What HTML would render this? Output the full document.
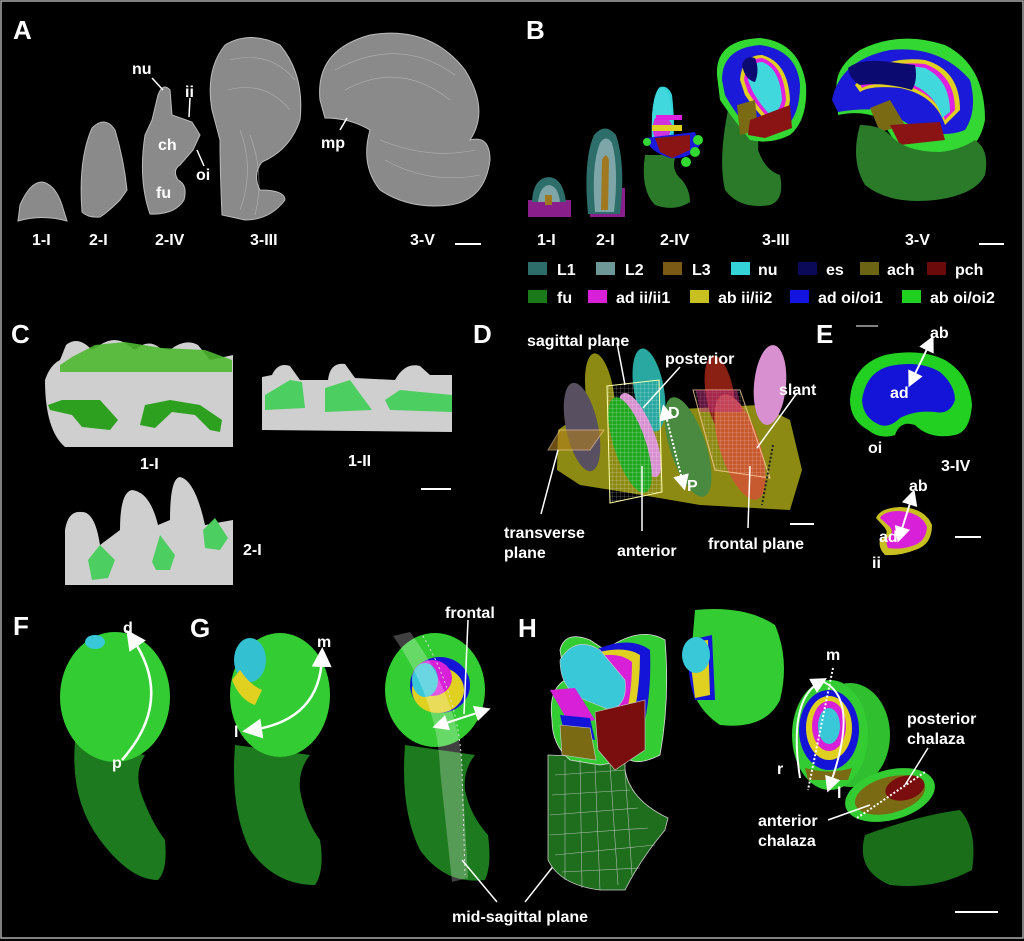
<!DOCTYPE html>
<html><head><meta charset="utf-8"><style>
html,body{margin:0;padding:0;background:#000;}
svg{display:block}
text{font-family:"Liberation Sans",sans-serif;font-weight:bold;fill:#fff}
.L{font-size:26px}
.t{font-size:16px}
</style></head><body>
<svg width="1024" height="941" viewBox="0 0 1024 941">
<defs>
<marker id="ah" markerWidth="8" markerHeight="8" refX="4" refY="4" orient="auto"><path d="M0,0 L8,4 L0,8z" fill="#fff"/></marker>
<marker id="ahs" markerWidth="8" markerHeight="8" refX="4" refY="4" orient="auto-start-reverse"><path d="M0,0 L8,4 L0,8z" fill="#fff"/></marker>
<pattern id="grid" width="4" height="4" patternUnits="userSpaceOnUse"><path d="M4,0 L0,0 0,4" fill="none" stroke="#fff" stroke-width="0.5" opacity="0.6"/></pattern>
</defs>
<rect x="0" y="0" width="1024" height="941" fill="#000"/>
<rect x="1" y="1" width="1022" height="937" fill="none" stroke="#aaa" stroke-width="1.5"/>

<!-- Panel A -->
<text class="L" x="13" y="39">A</text>
<g fill="#8a8a8a" stroke="#bbb" stroke-width="1">
<path d="M18,221 L20,205 Q30,182 42,182 Q55,184 62,205 L67,221 Q42,214 18,221z"/>
<path d="M82,212 Q78,160 92,128 Q105,115 115,130 Q124,160 127,190 L120,200 Q108,212 100,217 Q88,218 82,212z"/>
<path d="M150,214 Q138,180 145,135 L152,120 L158,95 Q163,82 170,90 L172,115 L192,122 L200,135 L193,150 L180,165 Q172,170 178,180 Q188,185 184,200 Q175,215 150,214z"/>
<path d="M222,215 Q220,170 220,140 L212,110 Q205,70 225,45 Q250,30 280,45 Q305,75 300,120 Q290,150 262,162 Q252,175 260,190 Q285,190 285,200 Q270,220 245,220z"/>
<path d="M320,100 Q315,50 370,35 Q430,25 465,70 Q490,110 470,140 Q490,135 490,160 Q485,200 450,205 Q410,210 380,190 Q360,165 370,130 Q350,118 325,118z"/>
</g>
<g fill="none" stroke="#ccc" stroke-width="0.6" opacity="0.6">
<path d="M230,60 Q270,50 295,80 M228,90 Q265,80 290,110 M240,130 Q255,170 240,210 M250,135 Q265,175 255,215"/>
<path d="M335,70 Q400,35 455,75 M345,90 Q400,60 450,100 M380,140 Q430,160 475,150 M385,160 Q430,185 480,175"/>
</g>
<g stroke="#fff" stroke-width="1.5"><line x1="152" y1="78" x2="163" y2="90"/><line x1="190" y1="98" x2="189" y2="117"/><line x1="197" y1="150" x2="204" y2="166"/><line x1="340" y1="130" x2="347" y2="118"/></g>
<text class="t" x="132" y="74">nu</text><text class="t" x="185" y="97">ii</text>
<text class="t" x="158" y="150">ch</text><text class="t" x="196" y="180">oi</text>
<text class="t" x="156" y="198">fu</text><text class="t" x="321" y="148">mp</text>
<text class="t" x="32" y="245">1-I</text><text class="t" x="89" y="245">2-I</text>
<text class="t" x="155" y="245">2-IV</text><text class="t" x="250" y="245">3-III</text>
<text class="t" x="410" y="245">3-V</text>
<line x1="455" y1="244" x2="481" y2="244" stroke="#fff" stroke-width="2"/>

<!-- Panel B -->
<text class="L" x="526" y="39">B</text>
<rect x="528" y="200" width="43" height="17" fill="#8a1e8a"/>
<path d="M532,202 Q533,178 549,177 Q563,178 566,202z" fill="#2e6e6a"/>
<path d="M538,202 Q540,186 549,185 Q558,186 560,202z" fill="#7ea6a8"/>
<rect x="545" y="195" width="7" height="10" fill="#a07820"/>
<rect x="590" y="188" width="35" height="29" fill="#8a1e8a"/>
<path d="M588,214 Q583,160 594,135 Q605,122 616,135 Q626,165 620,214z" fill="#2e6e6a"/>
<path d="M595,212 Q591,165 600,143 Q606,134 612,143 Q619,168 614,212z" fill="#7ea6a8"/>
<path d="M601,210 L602,160 Q606,151 609,160 L608,210z" fill="#a07820"/>
<path d="M645,155 Q640,190 655,205 Q675,212 690,202 Q690,190 682,180 Q670,170 676,155z" fill="#2a7a2a"/>
<path d="M652,148 Q650,95 660,87 Q668,85 672,95 Q676,130 672,148z" fill="#33d3d8"/>
<ellipse cx="662" cy="120" rx="10" ry="32" fill="#40d8dc"/>
<path d="M655,118 Q650,130 656,140 L668,140 L672,125 L668,118z" fill="#e020e0" opacity="0.9"/>
<rect x="652" y="125" width="30" height="6" fill="#e0d020"/>
<rect x="656" y="115" width="26" height="5" fill="#e020e0"/>
<path d="M645,138 L695,132 L700,145 Q690,160 670,158 Q650,152 645,138z" fill="#1a1ad8"/>
<path d="M655,138 L690,135 L690,150 L672,158 L660,152z" fill="#8a1414"/>
<circle cx="698" cy="140" r="5" fill="#33d833"/><circle cx="695" cy="152" r="5" fill="#33d833"/><circle cx="686" cy="162" r="5" fill="#33d833"/><circle cx="647" cy="142" r="4" fill="#33d833"/>
<path d="M728,110 Q718,160 725,190 Q740,210 770,205 Q785,200 780,175 Q765,170 758,150 Q760,130 745,110z" fill="#2a7a2a"/>
<path d="M717,75 Q715,40 760,38 Q800,42 806,85 Q808,120 790,135 Q770,145 750,140 Q730,115 720,100z" fill="#33d833"/>
<path d="M722,80 Q722,48 760,45 Q797,50 800,85 Q800,115 785,128 Q765,135 745,125 Q730,105 725,95z" fill="#1a1ad8"/>
<path d="M740,80 Q742,55 762,55 Q788,62 790,100 Q788,120 770,125 Q755,110 745,95z" fill="#e0d020"/>
<path d="M744,80 Q746,58 762,58 Q784,65 786,100 Q783,117 770,120 Q757,106 748,92z" fill="#e020e0"/>
<path d="M748,80 Q750,62 762,62 Q780,68 782,100 Q779,113 770,115 Q758,102 752,90z" fill="#40d8dc"/>
<path d="M742,65 Q745,55 755,58 Q760,70 755,82 Q745,80 742,65z" fill="#0a0a70"/>
<path d="M737,105 L755,100 L758,130 L740,135z" fill="#7a6a14"/>
<path d="M750,120 L790,105 L792,128 L765,138 L748,135z" fill="#8a1414"/>
<path d="M838,98 Q830,70 860,50 Q900,30 945,45 Q985,65 985,120 Q980,145 965,150 Q920,155 900,150 L880,118 Q860,110 838,115z" fill="#33d833"/>
<path d="M832,100 Q840,60 890,50 Q940,45 970,80 Q978,110 965,130 Q940,140 910,125 L885,110 Q860,108 838,112z" fill="#1a1ad8"/>
<path d="M855,85 Q880,55 925,60 Q960,70 960,110 L945,125 Q935,95 900,88 Q870,85 860,92z" fill="#e0d020"/>
<path d="M858,80 Q885,60 925,64 Q955,75 955,110 L945,120 Q935,92 900,84 Q872,82 862,88z" fill="#e020e0"/>
<path d="M862,74 Q890,62 925,68 Q950,80 950,112 L942,118 Q935,90 900,80 Q875,78 866,82z" fill="#40d8dc"/>
<path d="M848,68 Q860,58 890,62 L915,65 Q918,80 912,90 Q885,82 860,85 Q850,80 848,68z" fill="#0a0a70"/>
<path d="M870,108 L890,100 L905,125 L880,132z" fill="#7a6a14"/>
<path d="M890,125 L940,122 L945,140 L900,145z" fill="#8a1414"/>
<path d="M860,125 Q850,160 865,185 Q890,205 935,200 Q975,195 985,175 Q990,150 975,140 Q960,150 940,152 Q905,152 890,135 Q880,125 860,125z" fill="#2a7a2a"/>
<text class="t" x="537" y="245">1-I</text><text class="t" x="596" y="245">2-I</text>
<text class="t" x="660" y="245">2-IV</text><text class="t" x="762" y="245">3-III</text>
<text class="t" x="905" y="245">3-V</text>
<line x1="979" y1="244" x2="1004" y2="244" stroke="#fff" stroke-width="2"/>
<!-- legend -->
<g>
<rect x="528" y="262" width="19" height="13" fill="#2e6e6a"/><text class="t" x="557" y="275">L1</text>
<rect x="596" y="262" width="19" height="13" fill="#6e9898"/><text class="t" x="625" y="275">L2</text>
<rect x="663" y="262" width="19" height="13" fill="#7a5a14"/><text class="t" x="692" y="275">L3</text>
<rect x="731" y="262" width="19" height="13" fill="#33d3d8"/><text class="t" x="758" y="275">nu</text>
<rect x="798" y="262" width="19" height="13" fill="#0a0a58"/><text class="t" x="826" y="275">es</text>
<rect x="860" y="262" width="19" height="13" fill="#6a6414"/><text class="t" x="887" y="275">ach</text>
<rect x="927" y="262" width="19" height="13" fill="#6a0a0a"/><text class="t" x="955" y="275">pch</text>
<rect x="528" y="290" width="19" height="13" fill="#1a7a1a"/><text class="t" x="557" y="303">fu</text>
<rect x="588" y="290" width="19" height="13" fill="#d820d8"/><text class="t" x="616" y="303">ad ii/ii1</text>
<rect x="690" y="290" width="19" height="13" fill="#c8c020"/><text class="t" x="718" y="303">ab ii/ii2</text>
<rect x="790" y="290" width="19" height="13" fill="#1414e0"/><text class="t" x="818" y="303">ad oi/oi1</text>
<rect x="902" y="290" width="19" height="13" fill="#20d020"/><text class="t" x="930" y="303">ab oi/oi2</text>
</g>

<!-- Panel C -->
<text class="L" x="11" y="343">C</text>
<path d="M45,380 Q50,365 60,360 L66,345 Q78,335 92,350 L100,345 Q115,335 128,345 L135,350 Q148,338 160,348 L170,350 Q185,338 198,345 L210,360 L233,355 L233,447 L65,447 Q45,430 45,380z" fill="#cfcfcf"/>
<path d="M60,365 L72,357 L95,345 L125,342 L162,348 L205,350 L232,360 L232,372 L60,372z" fill="#4cb830" opacity="0.9"/>
<path d="M48,405 L62,400 L100,400 L118,420 L110,430 L82,427 L72,415 L50,410z" fill="#2ea020"/>
<path d="M140,425 L145,405 L170,400 L200,405 L222,420 L220,432 L210,430 L195,415 L172,412 L155,428z" fill="#2ea020"/>
<path d="M262,377 L272,375 Q278,362 290,366 L300,380 L328,380 Q330,362 345,364 L355,378 L395,380 Q405,362 420,366 L430,375 L452,375 L452,432 L262,430z" fill="#cfcfcf"/>
<path d="M265,395 L290,380 L302,382 L305,408 L265,410z" fill="#4ccf60"/>
<path d="M325,388 L350,380 L372,410 L325,412z" fill="#4ccf60"/>
<path d="M385,400 L400,390 L452,395 L452,412 L390,410z" fill="#4ccf60"/>
<text class="t" x="140" y="469">1-I</text><text class="t" x="348" y="466">1-II</text>
<line x1="421" y1="489" x2="451" y2="489" stroke="#fff" stroke-width="2"/>
<path d="M65,585 L65,530 Q68,510 82,512 Q95,512 100,545 L120,530 Q120,492 132,490 Q150,492 158,525 L170,520 Q170,478 180,477 Q195,480 205,525 L233,520 L233,585z" fill="#cfcfcf"/>
<path d="M88,560 L100,545 L115,560 L108,578 L92,580z" fill="#4ccf60"/>
<path d="M152,562 L160,535 L175,555 L170,570 L156,570z" fill="#4ccf60"/>
<path d="M203,530 L215,518 L228,538 L220,550 L205,548z" fill="#4ccf60"/>
<text class="t" x="243" y="555">2-I</text>

<!-- Panel D -->
<text class="L" x="473" y="343">D</text>
<path d="M557,470 L558,430 L600,400 L660,410 L760,405 L790,420 L802,470 L790,510 L700,505 L630,493 L580,485z" fill="#8c8a12"/>
<ellipse cx="600" cy="395" rx="14" ry="42" fill="#8c8a12" transform="rotate(-8 600 395)"/>
<ellipse cx="582" cy="427" rx="16" ry="45" fill="#585060" transform="rotate(-12 582 427)"/>
<ellipse cx="649" cy="390" rx="15" ry="42" fill="#28a8a0" transform="rotate(-10 649 390)"/>
<ellipse cx="720" cy="395" rx="14" ry="40" fill="#8a2014" transform="rotate(-10 720 395)"/>
<ellipse cx="770" cy="385" rx="16" ry="40" fill="#d890d0" transform="rotate(5 770 385)"/>
<ellipse cx="640" cy="435" rx="14" ry="45" fill="#d890d0" transform="rotate(-22 640 435)"/>
<ellipse cx="630" cy="445" rx="16" ry="50" fill="#20a820" transform="rotate(-18 630 445)"/>
<ellipse cx="688" cy="447" rx="18" ry="52" fill="#4a8a40" transform="rotate(-18 688 447)"/>
<ellipse cx="740" cy="447" rx="20" ry="55" fill="#c85a30" transform="rotate(-18 740 447)"/>
<polygon points="607,386 659,380 662,492 610,503" fill="url(#grid)" stroke="#ffffaa" stroke-width="1"/>
<polygon points="693,390 740,390 770,478 715,470" fill="url(#grid)" stroke="#ffd0a0" stroke-width="1" opacity="0.8"/>
<polygon points="696,390 737,390 742,412 700,412" fill="#c03080" opacity="0.5"/>
<polygon points="548,450 560,430 604,430 590,450" fill="#b08020" opacity="0.6" stroke="#ffd0a0"/>
<line x1="665" y1="412" x2="683" y2="483" stroke="#fff" stroke-width="2" stroke-dasharray="2,2" marker-start="url(#ahs)" marker-end="url(#ah)"/>
<line x1="773" y1="445" x2="762" y2="505" stroke="#222" stroke-width="2" stroke-dasharray="2,2"/>
<text class="t" x="668" y="418">D</text><text class="t" x="687" y="491">P</text>
<g stroke="#fff" stroke-width="1.5">
<line x1="617" y1="343" x2="625" y2="385"/><line x1="680" y1="367" x2="643" y2="408"/>
<line x1="797" y1="393" x2="757" y2="448"/><line x1="558" y1="450" x2="541" y2="514"/>
<line x1="642" y1="466" x2="642" y2="531"/><line x1="750" y1="466" x2="748" y2="528"/>
</g>
<text class="t" x="527" y="346">sagittal plane</text>
<text class="t" x="665" y="364">posterior</text>
<text class="t" x="779" y="395">slant</text>
<text class="t" x="504" y="538">transverse</text><text class="t" x="504" y="558">plane</text>
<text class="t" x="617" y="556">anterior</text>
<text class="t" x="708" y="549">frontal plane</text>
<line x1="790" y1="524" x2="814" y2="524" stroke="#fff" stroke-width="2"/>

<!-- Panel E -->
<text class="L" x="816" y="343">E</text>
<line x1="856" y1="326" x2="878" y2="326" stroke="#fff" stroke-width="1"/>
<path d="M850,400 Q852,365 885,355 Q920,348 945,360 Q970,375 972,405 Q970,432 955,435 Q930,440 915,425 Q900,420 895,435 Q880,440 868,430 Q850,420 850,400z" fill="#22d022"/>
<path d="M862,400 Q866,372 890,366 Q920,360 940,372 Q955,385 955,400 Q950,415 935,412 Q915,410 900,418 Q890,428 880,425 Q863,418 862,400z" fill="#1414d8"/>
<line x1="912" y1="380" x2="930" y2="343" stroke="#fff" stroke-width="2" marker-start="url(#ahs)" marker-end="url(#ah)"/>
<text class="t" x="930" y="338">ab</text><text class="t" x="890" y="398">ad</text>
<text class="t" x="868" y="453">oi</text><text class="t" x="941" y="471">3-IV</text>
<path d="M876,518 Q880,508 900,507 Q925,508 932,525 Q932,545 915,550 Q900,556 885,555 Q878,548 880,540 Q890,535 885,528z" fill="#c8c020"/>
<path d="M880,518 Q884,511 900,511 Q922,513 927,527 Q926,542 912,546 Q900,550 888,548 Q885,542 888,537 Q895,532 889,526z" fill="#d820d8"/>
<line x1="900" y1="535" x2="912" y2="497" stroke="#fff" stroke-width="2" marker-start="url(#ahs)" marker-end="url(#ah)"/>
<text class="t" x="909" y="491">ab</text><text class="t" x="879" y="542">ad</text>
<text class="t" x="872" y="568">ii</text>
<line x1="955" y1="537" x2="981" y2="537" stroke="#fff" stroke-width="2"/>

<!-- Panel F -->
<text class="L" x="13" y="635">F</text>
<path d="M75,742 Q70,800 100,840 Q130,880 158,880 Q168,870 165,840 Q150,820 140,790 Q135,770 145,755z" fill="#1e7a1e"/>
<ellipse cx="115" cy="697" rx="55" ry="65" fill="#33cc33"/>
<ellipse cx="95" cy="642" rx="10" ry="7" fill="#38c8d8"/>
<path d="M122,760 Q175,700 132,638" fill="none" stroke="#fff" stroke-width="2.5" marker-end="url(#ah)"/>
<text class="t" x="123" y="633">d</text><text class="t" x="112" y="768">p</text>

<!-- Panel G -->
<text class="L" x="190" y="637">G</text>
<path d="M235,745 Q230,810 250,850 Q275,885 315,885 Q325,870 320,840 Q305,820 300,790 Q298,770 310,755z" fill="#1e7a1e"/>
<ellipse cx="280" cy="695" rx="50" ry="62" fill="#33cc33"/>
<ellipse cx="250" cy="660" rx="16" ry="22" fill="#33c0d0"/>
<path d="M232,680 Q240,700 255,705 L262,690 Q250,685 240,670z" fill="#e0d020"/>
<path d="M322,657 Q320,720 252,730" fill="none" stroke="#fff" stroke-width="2.5" marker-start="url(#ahs)" marker-end="url(#ah)"/>
<text class="t" x="317" y="647">m</text><text class="t" x="234" y="737">l</text>
<path d="M405,745 Q400,810 420,850 Q445,885 485,880 Q492,865 488,835 Q470,815 465,790 Q463,770 475,755z" fill="#1e7a1e"/>
<ellipse cx="435" cy="690" rx="50" ry="57" fill="#33cc33"/>
<ellipse cx="440" cy="685" rx="30" ry="28" fill="#1414d8"/>
<ellipse cx="438" cy="690" rx="26" ry="23" fill="#e0d020"/>
<ellipse cx="432" cy="678" rx="20" ry="18" fill="#d820d8"/>
<ellipse cx="425" cy="680" rx="13" ry="17" fill="#38c8d8"/>
<path d="M393,636 L410,632 Q460,700 462,770 L468,878 L452,882 L440,770 Q438,700 393,636z" fill="#ffffff" opacity="0.25"/>
<path d="M423,636 Q460,700 462,770 L465,875" fill="none" stroke="#ddd" stroke-width="1" stroke-dasharray="2,3"/>
<line x1="440" y1="725" x2="483" y2="711" stroke="#fff" stroke-width="2" marker-start="url(#ahs)" marker-end="url(#ah)"/>
<line x1="468" y1="620" x2="464" y2="714" stroke="#fff" stroke-width="1.5"/>
<text class="t" x="445" y="618">frontal</text>
<line x1="462" y1="860" x2="497" y2="902" stroke="#fff" stroke-width="1.5"/>
<line x1="570" y1="845" x2="525" y2="902" stroke="#fff" stroke-width="1.5"/>
<text class="t" x="452" y="922">mid-sagittal plane</text>

<!-- Panel H -->
<text class="L" x="518" y="637">H</text>
<path d="M548,755 L548,860 Q560,885 600,890 L625,890 Q640,860 665,830 L668,818 Q630,800 625,770 L625,758z" fill="#1e6e1e" stroke="#ccc" stroke-width="0.8"/>
<path d="M552,720 Q548,690 565,680 L560,650 Q565,630 590,640 L605,650 Q640,625 665,640 Q670,700 660,755 Q640,765 630,760 L600,765 L570,760 Q552,745 552,720z" fill="#33cc33" stroke="#ddd" stroke-width="0.8"/>
<path d="M595,650 Q630,635 650,650 Q652,700 640,740 L620,745 Q605,700 595,650z" fill="#1414d8"/>
<path d="M595,653 Q625,645 640,655 Q640,700 628,735 L615,740 Q602,700 595,653z" fill="#e0d020"/>
<path d="M598,656 Q620,652 632,662 Q632,700 622,728 L612,732 Q603,700 598,656z" fill="#d820d8"/>
<path d="M560,660 Q575,635 600,650 L625,680 Q628,705 610,710 L585,700 Q560,690 560,660z" fill="#38c8d8" stroke="#ccc" stroke-width="0.6"/>
<path d="M550,690 L575,688 L595,720 L570,725z" fill="#d820d8"/>
<path d="M560,715 L590,718 L595,740 L565,735z" fill="#1414d8"/>
<path d="M560,725 L590,728 L596,760 L562,755z" fill="#7a6a14" stroke="#ccc" stroke-width="0.6"/>
<path d="M595,712 L645,700 L645,750 L615,770 L598,750z" fill="#7a0e0e" stroke="#ccc" stroke-width="0.6"/>
<g fill="none" stroke="#cfcfcf" stroke-width="0.6" opacity="0.8">
<path d="M555,775 L625,770 M552,795 L630,790 M550,815 L638,808 M550,835 L648,828 M555,855 L655,845 M562,872 L640,868"/>
<path d="M565,760 L565,880 M580,760 L582,888 M595,765 L600,890 M610,765 L618,885 M625,770 L632,875"/>
</g>
<path d="M695,610 Q745,605 775,625 Q790,660 780,700 Q765,730 720,725 Q690,705 690,670z" fill="#33cc33"/>
<path d="M690,640 L712,635 L715,700 L695,700 Q685,670 690,640z" fill="#1414d8"/>
<path d="M688,642 L708,640 L710,695 L695,698z" fill="#e0d020"/>
<ellipse cx="696" cy="655" rx="14" ry="18" fill="#38c8d8"/>
<ellipse cx="850" cy="735" rx="40" ry="52" fill="#2fbf2f"/>
<ellipse cx="830" cy="735" rx="38" ry="55" fill="#33cc33"/>
<ellipse cx="829" cy="730" rx="30" ry="40" fill="#1414d8"/>
<ellipse cx="829" cy="728" rx="23" ry="32" fill="#e0d020"/>
<ellipse cx="829" cy="726" rx="17" ry="25" fill="#d820d8"/>
<ellipse cx="829" cy="726" rx="11" ry="18" fill="#38c8d8"/>
<path d="M805,768 Q830,775 852,768 L848,780 L808,780z" fill="#7a6a14"/>
<path d="M800,778 Q788,700 820,682" fill="none" stroke="#fff" stroke-width="2" marker-end="url(#ah)"/>
<path d="M824,682 Q860,700 830,785" fill="none" stroke="#fff" stroke-width="2" marker-end="url(#ah)"/>
<line x1="833" y1="668" x2="808" y2="790" stroke="#fff" stroke-width="2" stroke-dasharray="2,2"/>
<text class="t" x="826" y="660">m</text><text class="t" x="777" y="774">r</text><text class="t" x="837" y="798">l</text>
<path d="M865,835 Q855,870 890,885 Q935,890 972,870 Q978,830 960,810 Q920,815 865,835z" fill="#1a6e1a"/>
<ellipse cx="890" cy="795" rx="46" ry="25" fill="#33cc33" transform="rotate(-15 890 795)"/>
<ellipse cx="890" cy="795" rx="36" ry="18" fill="#7a6a14" transform="rotate(-15 890 795)"/>
<ellipse cx="905" cy="788" rx="20" ry="12" fill="#7a0e0e" transform="rotate(-15 905 788)"/>
<line x1="857" y1="818" x2="925" y2="772" stroke="#fff" stroke-width="2" stroke-dasharray="2,2"/>
<line x1="928" y1="748" x2="905" y2="785" stroke="#fff" stroke-width="1.5"/>
<line x1="828" y1="820" x2="870" y2="805" stroke="#fff" stroke-width="1.5"/>
<text class="t" x="907" y="724">posterior</text><text class="t" x="907" y="744">chalaza</text>
<text class="t" x="758" y="826">anterior</text><text class="t" x="758" y="846">chalaza</text>
<line x1="955" y1="912" x2="998" y2="912" stroke="#fff" stroke-width="2"/>
</svg>
</body></html>
